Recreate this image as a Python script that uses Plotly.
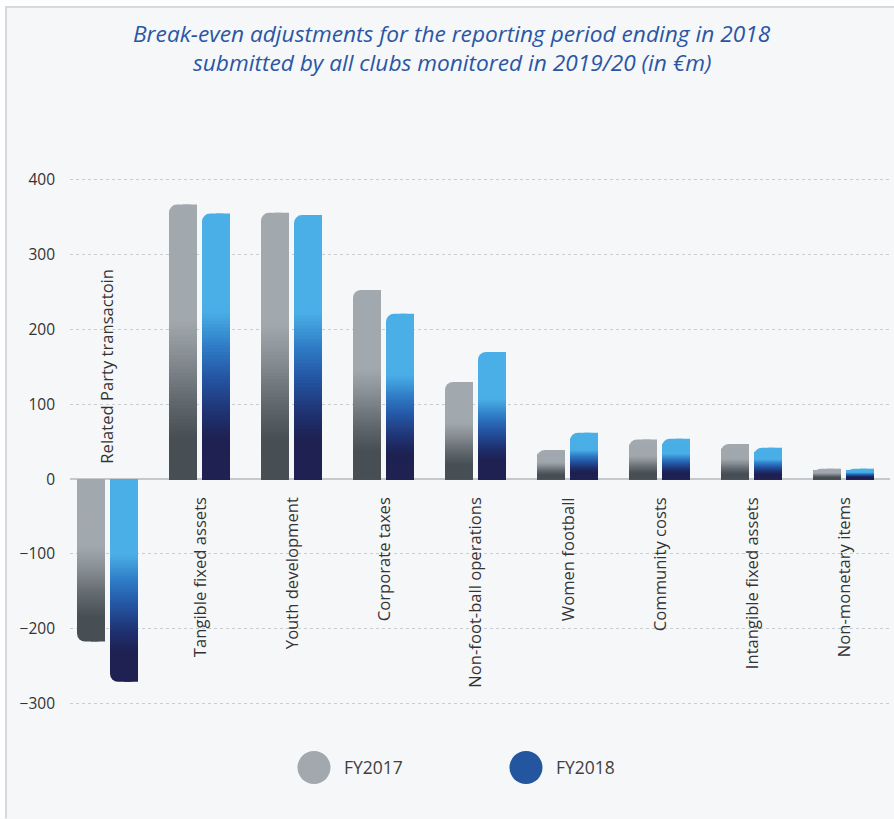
import numpy as np
import plotly.graph_objects as go

# ---- data (EUR m) ----
categories = [
    "Related Party transactoin", "Tangible fixed assets", "Youth development",
    "Corporate taxes", "Non-foot-ball operations", "Women football",
    "Community costs", "Intangible fixed assets", "Non-monetary items",
]
fy2017 = [-217, 367, 356, 253, 130, 39, 53, 47, 14]
fy2018 = [-271, 355, 353, 221, 170, 62, 54, 42, 14]
y_ticks = [400, 300, 200, 100, 0, -100, -200, -300]

# ---- page geometry (pixels) ----
W, H = 894, 819
L, R, T, B = 70, 4, 150, 92.5
PW, PH = W - L - R, H - T - B
PITCH = 92          # pixels between category centres
FIRST_CENTRE = 107  # pixel x of the first category


def px_x(px):
    return (px - L) / PW


def px_y(py):
    return (H - B - py) / PH


x_lo = -(FIRST_CENTRE - L) / PITCH
x_hi = x_lo + PW / PITCH

# vertical colour ramps on screen (s = 0 at the lower end of a bar, 1 at the upper end)
gray_stops = [(0.0, "#474f55"), (0.15, "#474f55"), (0.30, "#646b71"),
              (0.45, "#878e94"), (0.58, "#a1a8ae"), (1.0, "#a1a8ae")]
blue_stops = [(0.0, "#1e2152"), (0.15, "#1e2152"), (0.25, "#1f3272"),
              (0.38, "#2455a3"), (0.50, "#2f7cc6"), (0.63, "#4aafe6"), (1.0, "#4aafe6")]


def ramp(stops, s):
    ts = [p[0] for p in stops]
    rgb = [tuple(int(p[1][i:i + 2], 16) for i in (1, 3, 5)) for p in stops]
    c = [np.interp(s, ts, [v[k] for v in rgb]) for k in range(3)]
    return "rgb(%d,%d,%d)" % tuple(int(round(x)) for x in c)


x = list(range(len(categories)))
bar_w = 28 / PITCH
fig = go.Figure()


def screen_pos(v, g):
    # g = fraction of the bar measured from the zero line
    return g if v >= 0 else 1 - g


def add_series(values, offset, stops, name):
    far_cols = [ramp(stops, screen_pos(v, 1.0)) for v in values]
    # full bar with a rounded far end
    fig.add_trace(go.Bar(x=x, y=values, offset=offset, width=bar_w, name=name,
                         marker=dict(color=far_cols, cornerradius=8, line=dict(width=0)),
                         showlegend=False, hoverinfo="skip"))
    # square off the right-hand corner
    fig.add_trace(go.Bar(x=x, y=values, offset=offset + bar_w / 2, width=bar_w / 2,
                         marker=dict(color=far_cols, line=dict(width=0)),
                         showlegend=False, hoverinfo="skip"))
    # shading from the zero line outwards, nested segments
    gs = np.linspace(0.87, 0.10, 60)
    for k, g in enumerate(gs):
        nxt = gs[k + 1] if k + 1 < len(gs) else 0.0
        mid = (g + nxt) / 2
        cols = [ramp(stops, screen_pos(v, mid)) for v in values]
        fig.add_trace(go.Bar(x=x, y=[v * g for v in values], offset=offset, width=bar_w,
                             marker=dict(color=cols, line=dict(width=0)),
                             showlegend=False, hoverinfo="skip"))


add_series(fy2017, -30 / PITCH, gray_stops, "FY2017")
add_series(fy2018, 3 / PITCH, blue_stops, "FY2018")

# category labels, rotated, next to the zero line
annotations = []
for i, (c, a, b) in enumerate(zip(categories, fy2017, fy2018)):
    neg = min(a, b) < 0
    annotations.append(dict(
        x=i, y=0, xref="x", yref="y", text=c, textangle=-90, showarrow=False,
        xanchor="center", yanchor="bottom" if neg else "top",
        yshift=13 if neg else -16,
        font=dict(family="Open Sans", size=16.6, color="#333333"),
    ))

# title
title_font = dict(family="Open Sans", size=22.7, color="#2a56a4")
annotations += [
    dict(text="<i>Break-even adjustments for the reporting period ending in 2018</i>",
         xref="paper", yref="paper", x=px_x(452), y=px_y(33), showarrow=False,
         xanchor="center", yanchor="middle", font=title_font),
    dict(text="<i>submitted by all clubs monitored in 2019/20 (in €m)</i>",
         xref="paper", yref="paper", x=px_x(452), y=px_y(62), showarrow=False,
         xanchor="center", yanchor="middle", font=title_font),
]

# legend
legend_items = [("FY2017", "#a1a8ae", 314, 342), ("FY2018", "#23569f", 526, 554)]
shapes = []
for label, col, cx, tx in legend_items:
    shapes.append(dict(type="circle", xref="paper", yref="paper",
                       xsizemode="pixel", ysizemode="pixel",
                       xanchor=px_x(cx), yanchor=px_y(768),
                       x0=-16.5, x1=16.5, y0=-16.5, y1=16.5,
                       fillcolor=col, line=dict(width=0)))
    annotations.append(dict(text=label, xref="paper", yref="paper", x=px_x(tx), y=px_y(768),
                            xanchor="left", yanchor="middle", showarrow=False,
                            font=dict(family="Open Sans", size=17.5, color="#404040")))

# card edges
shapes += [
    dict(type="rect", xref="paper", yref="paper", x0=px_x(0), x1=px_x(5), y0=px_y(H), y1=px_y(0),
         fillcolor="white", line=dict(width=0)),
    dict(type="rect", xref="paper", yref="paper", x0=px_x(0), x1=px_x(W), y0=px_y(6), y1=px_y(0),
         fillcolor="white", line=dict(width=0)),
    dict(type="line", xref="paper", yref="paper", x0=px_x(6), x1=px_x(6), y0=px_y(H), y1=px_y(6),
         line=dict(color="#d6d9dc", width=2)),
    dict(type="line", xref="paper", yref="paper", x0=px_x(5), x1=px_x(W), y0=px_y(7), y1=px_y(7),
         line=dict(color="#d6d9dc", width=2)),
]

fig.update_layout(
    width=W, height=H,
    margin=dict(l=L, r=R, t=T, b=B),
    paper_bgcolor="#f6f7f9", plot_bgcolor="rgba(0,0,0,0)",
    barmode="overlay", showlegend=False,
    annotations=annotations, shapes=shapes,
    xaxis=dict(range=[x_lo, x_hi], showticklabels=False, showgrid=False,
               zeroline=False, showline=False, fixedrange=True),
    yaxis=dict(range=[-330, 440], tickvals=y_ticks, showgrid=True,
               gridcolor="#c9cdd1", griddash="dot", gridwidth=1,
               zeroline=True, zerolinecolor="#c5c9cd", zerolinewidth=1.5,
               ticklabelstandoff=14,
               tickfont=dict(family="Open Sans", size=15.5, color="#333333"),
               showline=False, fixedrange=True),
)

fig.write_html("out.html")
